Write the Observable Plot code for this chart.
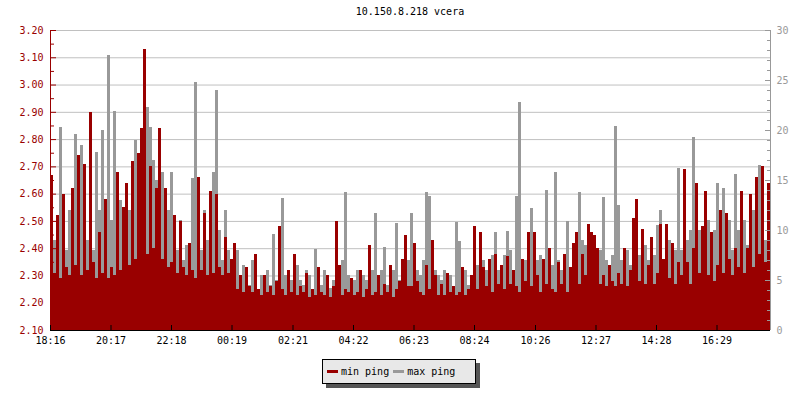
<!DOCTYPE html>
<html>
<head>
<meta charset="utf-8">
<script src="https://cdn.jsdelivr.net/npm/d3@7"></script>
<script src="https://cdn.jsdelivr.net/npm/@observablehq/plot@0.6"></script>
<style>
  body { margin: 0; background: #fff; }
  #wrap { position: relative; width: 800px; height: 400px; font-family: "DejaVu Sans Mono", monospace; }
  #title { position: absolute; top: 6px; left: 0; width: 820px; text-align: center; font-size: 10px; color: #000; line-height: 12px; }
  #chart { position: absolute; top: 0; left: 0; }
  #legend { position: absolute; left: 322px; top: 359px; width: 152px; height: 23px; background: #e8e8e8; border: 1px solid #000; box-shadow: 4px 4px 0 #555; font-size: 10px; line-height: 23px; white-space: nowrap; }
  #legend span.sw { display: inline-block; width: 11px; height: 3px; vertical-align: middle; margin: 0 3px 0 4px; position: relative; top: -1px; }
</style>
</head>
<body>
<div id="wrap">
  <div id="chart"></div>
  <div id="title"></div>
  <div id="legend"></div>
</div>
<script>
const chartTitle = "10.150.8.218 vcera";
const seriesNames = ["min ping", "max ping"];
const seriesColors = ["#990000", "#999999"];
const startTime = "18:16";
const stepMinutes = 6;

// min ping (left axis, ms)
const minPing = [
  2.67, 2.31, 2.52, 2.29, 2.60, 2.33, 2.30, 2.62, 2.34, 2.74,
  2.30, 2.71, 2.32, 2.90, 2.35, 2.29, 2.46, 2.31, 2.58, 2.29,
  2.33, 2.30, 2.68, 2.32, 2.55, 2.64, 2.34, 2.72, 2.36, 2.75,
  2.84, 3.13, 2.38, 2.70, 2.40, 2.62, 2.84, 2.36, 2.62, 2.33,
  2.35, 2.52, 2.31, 2.50, 2.33, 2.30, 2.42, 2.32, 2.29, 2.66,
  2.32, 2.53, 2.30, 2.61, 2.31, 2.60, 2.33, 2.30, 2.44, 2.31,
  2.36, 2.42, 2.25, 2.30, 2.24, 2.33, 2.26, 2.24, 2.38, 2.25,
  2.23, 2.30, 2.24, 2.26, 2.23, 2.28, 2.48, 2.25, 2.23, 2.32,
  2.24, 2.38, 2.23, 2.26, 2.24, 2.31, 2.22, 2.25, 2.23, 2.33,
  2.24, 2.23, 2.30, 2.22, 2.26, 2.50, 2.34, 2.23, 2.25, 2.24,
  2.29, 2.23, 2.24, 2.32, 2.22, 2.25, 2.41, 2.23, 2.24, 2.30,
  2.23, 2.27, 2.24, 2.34, 2.22, 2.25, 2.28, 2.36, 2.45, 2.26,
  2.26, 2.42, 2.28, 2.24, 2.23, 2.34, 2.25, 2.43, 2.30, 2.23,
  2.27, 2.23, 2.31, 2.24, 2.26, 2.23, 2.24, 2.33, 2.23, 2.25,
  2.30, 2.48, 2.25, 2.46, 2.33, 2.26, 2.36, 2.24, 2.38, 2.27,
  2.34, 2.25, 2.37, 2.27, 2.32, 2.26, 2.24, 2.36, 2.28, 2.46,
  2.26, 2.46, 2.30, 2.24, 2.36, 2.27, 2.40, 2.25, 2.24, 2.35,
  2.27, 2.38, 2.24, 2.33, 2.42, 2.46, 2.27, 2.38, 2.30, 2.49,
  2.46, 2.45, 2.40, 2.27, 2.30, 2.26, 2.34, 2.28, 2.26, 2.31,
  2.27, 2.40, 2.26, 2.32, 2.51, 2.58, 2.28, 2.47, 2.27, 2.34,
  2.44, 2.27, 2.31, 2.49, 2.36, 2.49, 2.29, 2.42, 2.27, 2.35,
  2.30, 2.69, 2.35, 2.27, 2.40, 2.64, 2.31, 2.48, 2.61, 2.30,
  2.46, 2.28, 2.34, 2.54, 2.31, 2.53, 2.36, 2.30, 2.40, 2.33,
  2.61, 2.31, 2.40, 2.60, 2.33, 2.66, 2.38, 2.70, 2.35, 2.64
];

// max ping (right axis, ms)
const maxPing = [
  7.5, 9, 8, 20.3, 9.5, 8, 12, 10, 19.6, 9,
  18.5, 10, 9, 11, 8, 17.8, 12, 20.0, 9, 27.5,
  11, 21.9, 9, 13, 10, 14, 12, 15, 19, 16,
  20, 14, 22.3, 20.3, 17, 15, 16, 15.8, 13, 12,
  15.8, 9, 8, 11, 7, 8.5, 7, 15.2, 24.8, 9,
  8, 12, 9, 10.7, 15.8, 24.0, 10, 7, 12, 8,
  6, 5, 8, 5.5, 6.5, 5, 4.5, 7, 5, 4,
  5.5, 4, 6, 4.5, 9.6, 5, 6, 13.2, 5.5, 4.5,
  5, 4, 6.5, 5, 4.5, 6, 5.5, 4, 8.1, 5,
  4.5, 6, 5, 4.2, 5, 6, 5, 7, 13.8, 5.5,
  4, 5, 6, 4.5, 5.5, 5, 4, 6, 11.7, 5,
  6, 8.3, 4.5, 5, 6, 10.7, 5, 6.5, 5.5, 7,
  11.7, 5, 6, 5.5, 7, 13.8, 13.4, 5, 6, 5.5,
  5, 6, 4.5, 5.5, 4, 10.8, 8.9, 5, 6, 4.5,
  5, 6, 6.5, 5, 7, 6, 5.5, 7.5, 9.8, 6,
  6, 7.5, 9.9, 8, 6, 13.4, 22.8, 6.5, 7, 6,
  12.2, 6, 7, 7.5, 5.5, 14.0, 6, 6.5, 15.8, 7,
  6, 7, 10.9, 6, 8, 7, 13.8, 9, 8.5, 7.5,
  6, 7, 6.5, 8, 13.3, 7, 6, 7.5, 20.4, 12.5,
  7, 6, 8, 6.5, 7, 9, 7.5, 6, 8.5, 7,
  6, 7.5, 10.5, 12.0, 7, 6.5, 9, 7, 8, 16.2,
  8, 7, 9, 10, 19.3, 8, 10, 9, 8, 11,
  8, 10, 14.7, 8.5, 14.2, 9, 11, 8, 15.6, 10,
  9, 11, 8.5, 10, 12, 9, 16.5, 10, 9, 11
];

const xTickLabels = ["18:16","20:17","22:18","00:19","02:21","04:22","06:23","08:24","10:26","12:27","14:28","16:29"];
const leftTicks = [2.10, 2.20, 2.30, 2.40, 2.50, 2.60, 2.70, 2.80, 2.90, 3.00, 3.10, 3.20];
const leftMinorTicks = [2.15, 2.25, 2.35, 2.45, 2.55, 2.65, 2.75, 2.85, 2.95, 3.05, 3.15];
const rightTicks = [0, 5, 10, 15, 20, 25, 30];
const rightMinorTicks = [1,2,3,4,6,7,8,9,11,12,13,14,16,17,18,19,21,22,23,24,26,27,28,29];

const leftDomain = [2.10, 3.20];
const rightDomain = [0, 30];
// map a right-axis value into left-axis units (dual axis)
const toLeft = v => leftDomain[0] + (v - rightDomain[0]) * (leftDomain[1] - leftDomain[0]) / (rightDomain[1] - rightDomain[0]);

const MIN = 60000;
const [sh, sm] = startTime.split(":").map(Number);
const t0 = Date.UTC(2020, 0, 1, sh, sm);
const tEnd = new Date(t0 + 1440 * MIN);
const tStart = new Date(t0);
const labelDate = s => { const [h, m] = s.split(":").map(Number); let t = Date.UTC(2020, 0, 1, h, m); if (t < t0) t += 1440 * MIN; return new Date(t); };
const xTicks = xTickLabels.map(labelDate);

const rows = minPing.map((v, i) => ({
  a: new Date(t0 + i * stepMinutes * MIN),
  b: new Date(t0 + (i + 1) * stepMinutes * MIN),
  min: v,
  max: maxPing[i]
}));

const W = 800, H = 400, mL = 50, mR = 30, mT = 30, mB = 70;
const pxToMin = px => px * 1440 / (W - mL - mR);
const pxToY = px => px * (leftDomain[1] - leftDomain[0]) / (H - mT - mB);
const font = "DejaVu Sans Mono, monospace";

const plot = Plot.plot({
  width: W, height: H,
  marginLeft: mL, marginRight: mR, marginTop: mT, marginBottom: mB,
  style: { fontFamily: font, fontSize: "10px", background: "#fff" },
  x: { type: "utc", domain: [tStart, tEnd], axis: null },
  y: { domain: leftDomain, axis: null },
  marks: [
    Plot.ruleY(leftTicks.slice(1), { stroke: "#c0c0c0" }),
    Plot.rectY(rows, { x1: "a", x2: "b", y1: leftDomain[0], y2: d => toLeft(d.max), fill: seriesColors[1], shapeRendering: "crispEdges" }),
    Plot.rectY(rows, { x1: "a", x2: "b", y1: leftDomain[0], y2: "min", fill: seriesColors[0], shapeRendering: "crispEdges" }),
    // left axis
    Plot.ruleX([tStart], { stroke: seriesColors[0] }),
    Plot.ruleY(leftTicks, { x1: tStart, x2: new Date(t0 + pxToMin(6) * MIN), stroke: seriesColors[0] }),
    Plot.ruleY(leftMinorTicks, { x1: tStart, x2: new Date(t0 + pxToMin(4) * MIN), stroke: seriesColors[0] }),
    Plot.text(leftTicks, { y: d => d, text: d => d.toFixed(2), frameAnchor: "left", textAnchor: "end", dx: -7, fill: seriesColors[0], fontSize: 10 }),
    // right axis
    Plot.ruleX([tEnd], { stroke: seriesColors[1] }),
    Plot.ruleY(rightTicks.map(toLeft), { x1: new Date(+tEnd - pxToMin(5) * MIN), x2: tEnd, stroke: seriesColors[1] }),
    Plot.ruleY(rightMinorTicks.map(toLeft), { x1: new Date(+tEnd - pxToMin(3) * MIN), x2: tEnd, stroke: seriesColors[1] }),
    Plot.text(rightTicks, { y: d => toLeft(d), text: d => String(d), frameAnchor: "right", textAnchor: "start", dx: 6, fill: seriesColors[1], fontSize: 10 }),
    // bottom axis
    Plot.ruleY([leftDomain[0]], { stroke: "#000" }),
    Plot.ruleX(xTicks, { y1: leftDomain[0], y2: leftDomain[0] + pxToY(5), stroke: "#000" }),
    Plot.text(xTicks, { x: d => d, text: (d, i) => xTickLabels[i], frameAnchor: "bottom", lineAnchor: "top", dy: 6, fill: "#000", fontSize: 10 })
  ]
});
document.getElementById("chart").appendChild(plot);
document.getElementById("title").textContent = chartTitle;
document.getElementById("legend").innerHTML = seriesNames.map((n, i) =>
  `<span class="sw" style="background:${seriesColors[i]}"></span>${n}`).join("");
</script>
</body>
</html>
